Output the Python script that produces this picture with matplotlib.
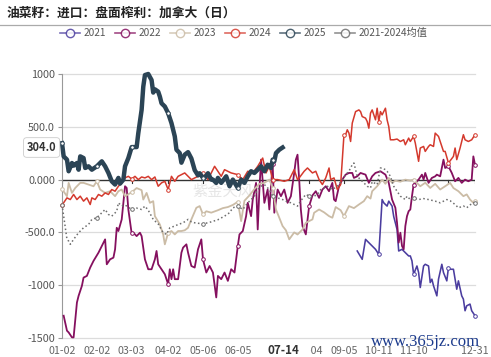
import numpy as np
import matplotlib.pyplot as plt
from matplotlib.lines import Line2D
from matplotlib.patches import Rectangle

plt.rcParams['font.family'] = ['Noto Sans CJK SC', 'DejaVu Sans']

W, H = 491, 357

# 横轴: 交易日序号 (0 = 01-02, 249 = 12-31)
tick_pos = [0, 21, 42, 64, 85, 106, 127, 149, 170, 191, 212, 233, 249]
tick_lab = ["01-02", "02-02", "03-03", "04-02", "05-06", "06-05", "", "08-04",
            "09-05", "10-11", "11-10", "", "12-31"]
y_ticks = [1000, 500, 0, -500, -1000, -1500]
y_labs = ["1000", "500.0", "0.000", "-500.0", "-1000", "-1500"]

x21 = [178, 181, 183, 186, 189, 191, 193, 194, 196, 197, 199, 200, 202, 203, 205, 207, 209, 210,
       211, 212, 214, 215, 216, 218, 219, 221, 222, 223, 224, 226, 227, 229, 230, 232, 233, 234,
       236, 238, 239, 241, 242, 243, 244, 246, 247, 249]
y21 = [-676, -755, -566, -613, -660, -708, -189, -220, -251, -204, -251, -350, -472, -676, -660,
       -692, -723, -723, -770, -896, -818, -880, -1022, -818, -802, -818, -975, -943, -1006, -1101,
       -943, -802, -880, -959, -833, -849, -849, -1038, -959, -1101, -1132, -1242, -1195, -1179,
       -1242, -1289]

x22 = [1, 3, 4, 6, 7, 9, 10, 12, 13, 15, 17, 19, 22, 24, 26, 27, 29, 31, 32, 33, 34, 36, 37, 38,
       39, 40, 42, 43, 45, 47, 48, 50, 52, 54, 56, 57, 58, 60, 62, 64, 65, 66, 67, 68, 70, 72, 73,
       75, 76, 78, 80, 82, 84, 85, 87, 89, 91, 93, 94, 96, 98, 100, 102, 104, 106, 107, 109, 111,
       112, 114, 115, 117, 118, 119, 120, 122, 124, 125, 127, 128, 130, 132, 134, 136, 138, 140,
       141, 142, 143, 144, 145, 147, 149, 151, 153, 155, 157, 159, 161, 163, 164, 165, 167, 169,
       171, 173, 175, 176, 178, 180, 183, 185, 187, 189, 192, 195, 197, 199, 201, 202, 203, 204,
       205, 206, 207, 208, 209, 210, 211, 212, 215, 217, 218, 219, 221, 223, 225, 226, 228, 230,
       231, 233, 235, 237, 239, 241, 243, 245, 247, 248, 249]
y22 = [-1289, -1431, -1447, -1494, -1494, -1164, -1101, -1006, -928, -912, -833, -770, -692, -629,
       -566, -802, -755, -739, -660, -456, -487, -377, -220, -63, -79, -283, -510, -503, -535, -503,
       -535, -755, -849, -849, -755, -676, -802, -849, -896, -991, -849, -943, -849, -943, -943,
       -692, -644, -613, -692, -818, -833, -660, -566, -755, -880, -818, -880, -1116, -912, -943,
       -880, -959, -849, -880, -629, -519, -487, -346, -220, -346, -189, -31, -472, -100, 189, -220,
       -94, -283, 150, -314, -94, -157, -94, -220, -157, 63, 189, 236, 0, -283, -440, -519, -251,
       -150, -110, -173, -94, -63, -110, -31, -189, -204, -63, 0, 47, 63, 63, 16, 31, 63, 47, -31,
       31, 63, 79, 47, -31, -189, -267, -409, -597, -503, -629, -660, -440, -346, -299, -283, -157,
       -47, 0, 47, 0, 63, -31, 16, 31, 47, 31, 189, 110, 126, 63, -16, 16, -31, 0, -16, 0, 220, 141]

x23 = [0, 3, 4, 6, 8, 11, 13, 16, 19, 21, 23, 26, 29, 32, 34, 36, 38, 42, 45, 48, 49, 51, 53, 55,
       56, 59, 61, 62, 64, 66, 68, 70, 72, 74, 76, 78, 81, 83, 85, 87, 90, 94, 97, 100, 103, 106,
       108, 110, 113, 116, 119, 122, 125, 127, 129, 131, 133, 135, 137, 140, 142, 145, 147, 151,
       152, 155, 158, 161, 163, 165, 168, 170, 173, 176, 179, 182, 184, 186, 187, 190, 193, 195,
       197, 199, 201, 204, 207, 210, 212, 216, 219, 222, 225, 228, 231, 234, 236, 239, 242, 244,
       246, 248, 249]
y23 = [-90, -157, -31, -126, -79, -31, -31, -47, -63, -16, -94, -126, -110, -157, -110, -94, -157,
       -120, -80, -100, -189, -126, -220, -204, -346, -425, -519, -613, -503, -487, -519, -487,
       -487, -480, -456, -377, -267, -251, -330, -300, -313, -290, -270, -260, -240, -210, -393,
       -200, -150, -90, -40, -31, 0, -79, -283, -361, -440, -480, -566, -500, -520, -472, -409,
       -377, -314, -283, -310, -346, -361, -260, -290, -346, -251, -270, -236, -204, -157, -180,
       -110, -63, 0, -40, 16, -31, -10, -20, 0, -10, 0, -63, -30, -79, -40, -94, -63, -31, -80,
       -110, -157, -140, -189, -220, -204]

x24 = [0, 3, 5, 7, 9, 11, 13, 15, 17, 18, 20, 22, 24, 26, 28, 30, 32, 34, 36, 38, 40, 42, 44, 46,
       48, 50, 52, 54, 56, 58, 60, 62, 64, 66, 68, 70, 72, 74, 76, 78, 82, 85, 88, 92, 94, 96, 98,
       102, 106, 109, 112, 115, 118, 121, 123, 125, 127, 130, 134, 137, 140, 142, 143, 146, 148,
       151, 153, 155, 157, 159, 161, 162, 164, 166, 168, 170, 171, 172, 173, 174, 175, 177, 179,
       180, 181, 183, 184, 185, 186, 187, 189, 190, 191, 192, 193, 195, 196, 197, 198, 200, 202,
       204, 206, 207, 209, 210, 212, 213, 215, 216, 218, 219, 221, 222, 224, 225, 227, 228, 230,
       231, 233, 236, 237, 238, 240, 242, 243, 245, 247, 249]
y24 = [-242, -173, -189, -141, -189, -157, -204, -173, -236, -173, -189, -141, -157, -126, -141,
       -94, -110, -63, -31, 16, 31, 6, 31, 0, 25, 16, 31, 0, 25, -63, -31, -16, -94, 31, -16, 31,
       47, 63, 31, 0, 31, 63, 0, 126, 79, 31, 94, 63, 47, 0, 79, 63, 126, 204, 63, 126, 0, 0, -16,
       0, 94, 0, 16, 79, 110, 63, 79, 0, -47, 16, 110, 0, 16, -94, -47, 425, 425, 472, 440, 361,
       535, 644, 660, 644, 597, 582, 550, 487, 629, 660, 566, 676, 550, 644, 613, 676, 566, 503,
       377, 377, 384, 361, 377, 330, 393, 361, 409, 346, 173, 299, 314, 267, 314, 330, 314, 440,
       409, 361, 267, 267, 157, 220, 299, 189, 299, 425, 377, 361, 377, 425]

x25 = [0, 1, 3, 4, 6, 7, 9, 10, 11, 13, 14, 16, 18, 21, 24, 26, 28, 30, 32, 34, 35, 37, 38, 40,
       42, 45, 46, 48, 49, 50, 52, 54, 55, 56, 58, 59, 60, 62, 64, 66, 68, 69, 71, 72, 74, 76, 78,
       80, 82, 83, 85, 86, 88, 90, 91, 93, 94, 96, 99, 101, 103, 106, 108, 110, 112, 114, 116,
       118, 120, 122, 124, 126, 127, 128, 129, 131, 133]
y25 = [345, 220, 189, 79, 157, 132, 157, 94, 220, 204, 110, 126, 94, 126, 173, 126, 63, -16, -47,
       16, -38, 0, 126, 204, 308, 308, 440, 660, 880, 990, 1000, 943, 824, 855, 833, 786, 723,
       692, 629, 535, 409, 283, 251, 160, 236, 260, 200, 90, 40, 60, 16, 16, 60, 0, 0, -31, 16,
       -31, 31, -63, 0, -79, 0, -31, 31, 79, 63, 94, 126, 79, 141, 110, 189, 173, 251, 283, 304]

x_avg = [0, 3, 4, 5, 7, 10, 13, 16, 18, 21, 24, 26, 28, 30, 33, 34, 36, 38, 42, 45, 48, 50, 52,
         55, 58, 61, 63, 65, 68, 70, 73, 76, 78, 80, 85, 90, 94, 98, 101, 103, 106, 109, 112, 114,
         116, 118, 120, 122, 125, 127, 130, 133, 135, 138, 142, 144, 147, 149, 152, 154, 156, 160,
         163, 166, 169, 171, 173, 175, 176, 178, 180, 182, 184, 186, 187, 190, 192, 193, 195, 196,
         198, 199, 200, 202, 204, 207, 208, 210, 212, 215, 218, 221, 225, 228, 232, 234, 237, 239,
         242, 244, 246, 248, 249]
y_avg = [-236, -566, -582, -613, -566, -503, -456, -425, -377, -361, -314, -283, -330, -346, -300,
         -220, -250, -240, -283, -270, -283, -251, -290, -377, -420, -503, -519, -456, -440, -425,
         -409, -377, -400, -409, -420, -400, -380, -346, -314, -267, -251, -283, -220, -189, -157,
         -94, -63, -47, -94, -157, -173, -189, -204, -220, -251, -200, -140, -157, -157, -140, -94,
         -63, -94, -63, 0, 47, 79, 141, 157, 31, 0, -31, -63, -79, -20, -47, 110, 110, 94, 79, 31,
         -16, -63, -110, -157, -189, -157, -189, -173, -189, -180, -189, -204, -220, -189, -200,
         -236, -267, -250, -267, -240, -220, -220]

series = [
    ("2021", x21, y21, "#4b3d9f", "-", 1.15),
    ("2022", x22, y22, "#85105f", "-", 1.3),
    ("2023", x23, y23, "#cbbca6", "-", 1.3),
    ("2024", x24, y24, "#d4392d", "-", 1.1),
    ("2025", x25, y25, "#2b4455", "-", 3.2),
    ("2021-2024均值", x_avg, y_avg, "#6e6e6e", ":", 1.1),
]

fig = plt.figure(figsize=(W / 100, H / 100), dpi=100)
fig.patch.set_facecolor("white")
ax = fig.add_axes([62 / W, 1 - 338 / H, (475 - 62) / W, (338 - 74) / H])
ax.set_xlim(0, 249)
ax.set_ylim(-1500, 1000)
for s in ["top", "right", "bottom"]:
    ax.spines[s].set_visible(False)
ax.spines["left"].set_color("#999999")
ax.spines["left"].set_linewidth(0.8)

for yv in y_ticks:
    if yv != 0:
        ax.axhline(yv, color="#dcdcdc", lw=0.9, zorder=0, clip_on=False)
ax.axhline(0, color="#333333", lw=1.0, zorder=1)
for tp in tick_pos:
    ax.plot([tp, tp], [0, -30], color="#333333", lw=0.8, zorder=1)

ax.set_yticks(y_ticks)
ax.set_yticklabels(y_labs)
ax.tick_params(axis="y", length=3, width=0.8, color="#999999", pad=2,
               labelsize=7.8, labelcolor="#555555")
ax.set_xticks(tick_pos)
ax.set_xticklabels(tick_lab)
ax.tick_params(axis="x", length=0, pad=6, labelsize=7.7, labelcolor="#666666")

# 水印
ax.text(97, -113, "紫金天风", fontsize=11, color="#e6e6e6", ha="center",
        va="center", zorder=0.5)

for i, (name, xs, ys, col, ls, lw) in enumerate(series):
    xs = np.array(xs)
    mk = np.isin(xs, tick_pos)
    ax.plot(xs, ys, color=col, ls=ls, lw=lw, zorder=2 + i, clip_on=False,
            marker="o", markevery=list(np.where(mk)[0]), ms=2.6,
            mfc="white", mec=col, mew=0.7)

# 坐标指示标签
ax.annotate("304.0", xy=(0, 304), xytext=(-4, 0), textcoords="offset points",
            ha="right", va="center", fontsize=8, fontweight="bold", color="#333333",
            bbox=dict(boxstyle="round,pad=0.3", fc="white", ec="#cccccc", lw=0.6),
            annotation_clip=False, zorder=20)
fig.add_artist(Rectangle((258 / W, 0), 52 / W, 1 - 341 / H, transform=fig.transFigure,
                         fc="white", ec="none", zorder=5))
fig.text(283 / W, 1 - 350 / H, "07-14", ha="center", va="center",
         fontsize=8.4, fontweight="bold", color="#333333", zorder=6)

# 标题与分隔线
fig.text(7 / W, 1 - 13 / H, "油菜籽：进口：盘面榨利：加拿大（日）", fontsize=9.2,
         fontweight="bold", color="#222222", ha="left", va="center")
fig.add_artist(Line2D([0, 1], [1 - 24.5 / H, 1 - 24.5 / H], transform=fig.transFigure,
                      color="#aaaaaa", lw=0.9))

# 图例
leg_x = [60, 115, 170, 225, 280, 335]
ly = 1 - 33 / H
for (name, xs, ys, col, ls, lw), lx in zip(series, leg_x):
    fig.add_artist(Line2D([lx / W, (lx + 20) / W], [ly, ly], transform=fig.transFigure,
                          color=col, lw=1.2, alpha=0.75))
    fig.add_artist(Line2D([(lx + 10) / W], [ly], transform=fig.transFigure, marker="o",
                          ms=6, mfc="white", mec=col, mew=1.0, alpha=0.85))
    fig.text((lx + 24) / W, ly, name, fontsize=7.3, color="#555555", ha="left", va="center")

fig.text(426 / W, 1 - 342 / H, "www.365jz.com", fontsize=12, color="#1b3a8c",
         family="Liberation Serif", ha="center", va="center", zorder=30)

fig.savefig("out.png", dpi=100, facecolor="white")
